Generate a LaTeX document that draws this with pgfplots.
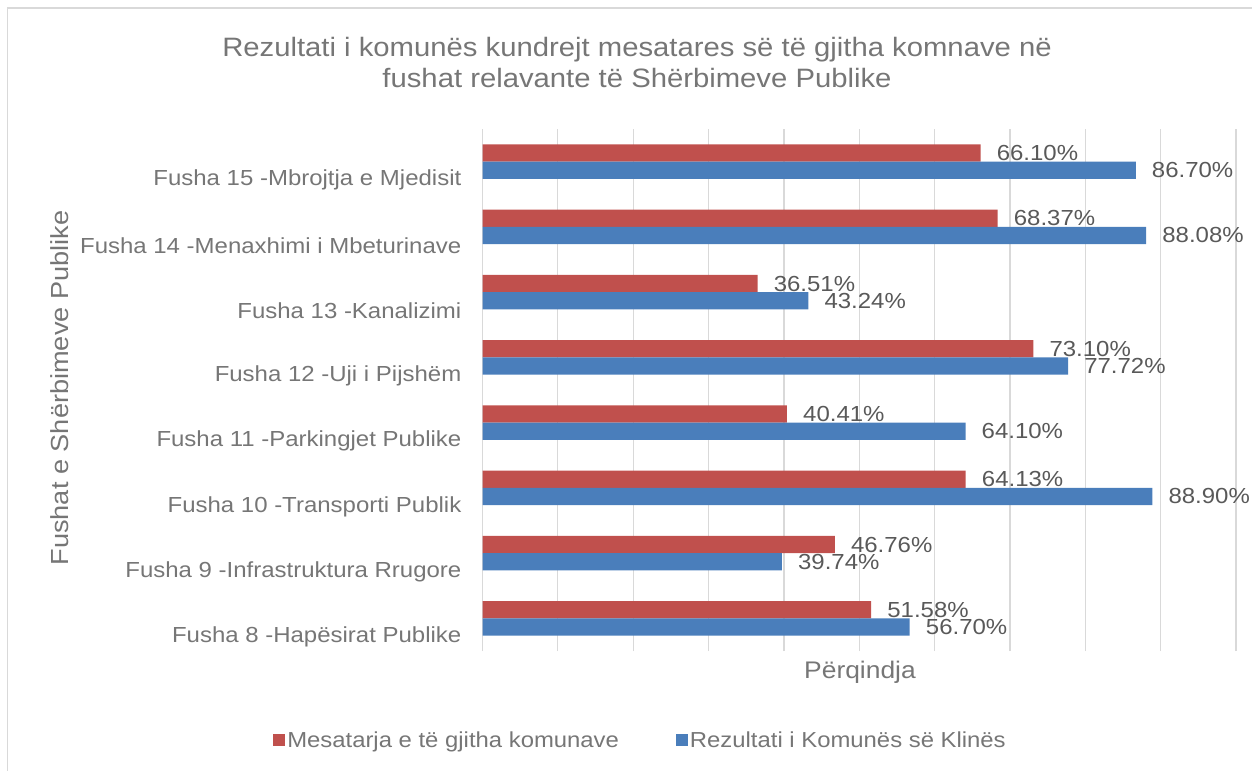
\documentclass[border=0pt]{standalone}
\usepackage{fontspec}
\setmainfont[FakeStretch=1.1]{Liberation Sans}
\usepackage{pgfplots}
\pgfplotsset{compat=1.18}
\definecolor{cred}{RGB}{192,80,77}
\definecolor{cblue}{RGB}{74,126,187}
\definecolor{txt}{RGB}{118,118,118}
\definecolor{lbl}{RGB}{89,89,89}
\definecolor{gridc}{RGB}{217,217,217}
\begin{document}
\begin{tikzpicture}
\path[use as bounding box] (0bp,0bp) rectangle (1252bp,771bp);
\draw[gridc, line width=1.5bp] (7.5bp,0bp) -- (7.5bp,763bp) -- (1252bp,763bp);
\node[txt, font=\fontsize{26.6bp}{31bp}\selectfont, align=center] at (637bp,708bp) {Rezultati i komunës kundrejt mesatares së të gjitha komnave në\\fushat relavante të Shërbimeve Publike};
\node[txt, rotate=90, font=\fontsize{24.7bp}{29bp}\selectfont] at (60bp,383bp) {Fushat e Shërbimeve Publike};
\node[txt, font=\fontsize{24bp}{28bp}\selectfont] at (860bp,99bp) {Përqindja};
\begin{axis}[
  at={(482.5bp,120bp)}, anchor=south west,
  scale only axis, width=753.5bp, height=522bp,
  xmin=0, xmax=100, ymin=-0.5, ymax=7.5,
  xbar, bar width=17.2bp,
  axis line style={draw=none},
  major tick length=0pt,
  xtick={0,10,...,100}, xticklabels={},
  xmajorgrids, grid style={gridc, line width=1.2bp},
  ytick={0,...,7},
  yticklabels={Fusha 8 -Hapësirat Publike, Fusha 9 -Infrastruktura Rrugore, Fusha 10 -Transporti Publik, Fusha 11 -Parkingjet Publike, Fusha 12 -Uji i Pijshëm, Fusha 13 -Kanalizimi, Fusha 14 -Menaxhimi i Mbeturinave, Fusha 15 -Mbrojtja e Mjedisit},
  yticklabel style={txt, font=\fontsize{21.8bp}{26bp}\selectfont, inner sep=0pt, xshift=-21bp, yshift=-18.5bp},
  point meta=x,
  nodes near coords={\pgfmathprintnumber[fixed,fixed zerofill,precision=2,assume math mode=true]{\pgfplotspointmeta}\%},
  nodes near coords style={lbl, font=\fontsize{21.8bp}{26bp}\selectfont, anchor=west, inner sep=0pt, xshift=16bp},
  legend style={at={(0.2097,-0.1705)}, anchor=center, draw=none, fill=none,
    font=\fontsize{21.7bp}{26bp}\selectfont, text=txt, inner sep=0pt,
    /tikz/every even column/.append style={column sep=55bp}},
  legend columns=2,
  legend cell align=left,
  legend image code/.code={\fill[#1] (0bp,-6bp) rectangle (12bp,6bp);},
]
\addplot[fill=cred, draw=none, bar shift=8.6bp] coordinates {(51.58,0) (46.76,1) (64.13,2) (40.41,3) (73.10,4) (36.51,5) (68.37,6) (66.10,7)};
\addplot[fill=cblue, draw=none, bar shift=-8.6bp] coordinates {(56.70,0) (39.74,1) (88.90,2) (64.10,3) (77.72,4) (43.24,5) (88.08,6) (86.70,7)};
\legend{Mesatarja e të gjitha komunave, Rezultati i Komunës së Klinës}
\end{axis}
\end{tikzpicture}
\end{document}
